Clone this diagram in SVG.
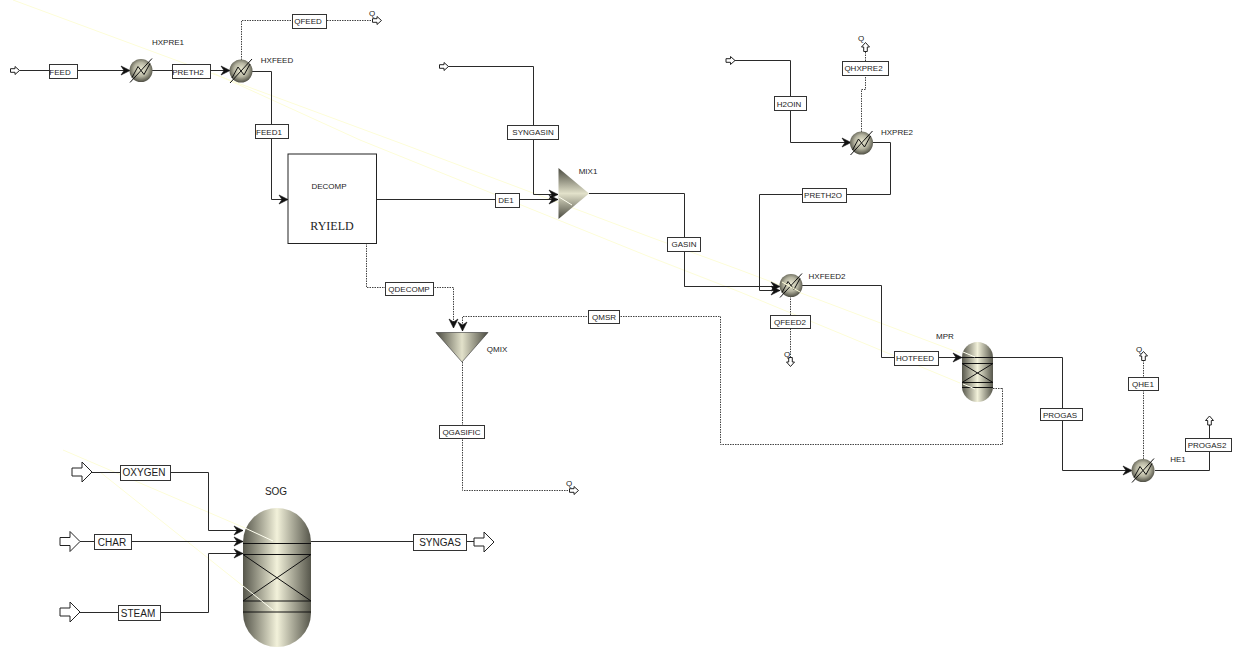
<svg xmlns="http://www.w3.org/2000/svg" xmlns:xlink="http://www.w3.org/1999/xlink" width="1239" height="647" viewBox="0 0 1239 647">
<style>
text{font-family:"Liberation Sans",Arial,sans-serif;font-size:8px;fill:#1c1c1c;text-anchor:middle}
.lg{font-size:10px}
.s{fill:none;stroke:#2a2a2a;stroke-width:1;marker-end:url(#ah)}
.n{fill:none;stroke:#2a2a2a;stroke-width:1}
.q{fill:none;stroke:#444;stroke-width:1;stroke-dasharray:1.5 1}
.qa{marker-end:url(#ah)}
.b{fill:#fff;stroke:#333;stroke-width:1}
.p{fill:#fff;stroke:#222;stroke-width:1}
.z{fill:none;stroke:#111;stroke-width:1}
.w{fill:none;stroke:#fffff0;stroke-width:1}
.y{fill:none;stroke:#fdfdd8;stroke-width:1}
</style>
<defs>
<radialGradient id="sph" cx="50%" cy="45%" r="55%"><stop offset="0" stop-color="#ecebd4"/><stop offset=".55" stop-color="#b5b4a0"/><stop offset="1" stop-color="#4f4f44"/></radialGradient>
<linearGradient id="ves" x1="0" x2="1" y1="0" y2="0"><stop offset="0" stop-color="#56564b"/><stop offset=".5" stop-color="#f2f1da"/><stop offset="1" stop-color="#56564b"/></linearGradient>
<linearGradient id="mixv" x1="0" x2="0" y1="0" y2="1"><stop offset="0" stop-color="#4a4a40"/><stop offset=".5" stop-color="#e2e1ca"/><stop offset="1" stop-color="#4a4a40"/></linearGradient>
<linearGradient id="mixh" x1="0" x2="1" y1="0" y2="0"><stop offset="0" stop-color="#4a4a40"/><stop offset=".5" stop-color="#e2e1ca"/><stop offset="1" stop-color="#4a4a40"/></linearGradient>
<marker id="ah" markerUnits="userSpaceOnUse" markerWidth="12" markerHeight="12" refX="10" refY="6" orient="auto"><path d="M1,1.5 L10,6 L1,10.5 L4,6 Z" fill="#111" stroke="#111" stroke-width=".6"/></marker>
<path id="pa" d="M-4.5,-1.8 H0 V-4 L4.5,0 L0,4 V1.8 H-4.5 Z" class="p"/>
<path id="pb" d="M-10,-4 H0 V-10 L10,0 L0,10 V4 H-10 Z" class="p"/>
<g id="hx"><circle r="11.5" fill="url(#sph)"/><path class="z" d="M-11,12 L11,-12 M-9,7 L-3,-4 L3,4 L9,-7"/></g>
</defs>

<g id="background-traces">
<path class="y" d="M13,0 L400,143 L650,237 L740,270 L960,353"/>
<path class="y" d="M213,73 L360,140 L650,257 L740,292 L960,383"/>
<path class="y" d="M63,450 L245,528"/>
<path class="y" d="M100,472 L243,586"/>
</g>

<g id="connectors">
<path class="s" d="M19.5,70.5 H130"/>
<path class="s" d="M152,70.5 H230"/>
<path class="n" d="M252,71.5 H271.5 V154"/><path class="s" d="M271.5,154 V199.5 H288"/>
<path class="q" d="M241.5,60 V20.5 H373"/>
<path class="s" d="M448,66.5 H533.5 V194.5 H558"/>
<path class="s" d="M376.5,199.5 H558"/>
<path class="n" d="M589,193.5 H684.5 V286.5 H770"/><path class="s" d="M684.5,286.5 H780"/>
<path class="q qa" d="M366.5,243 V287.5 H453.5 V328"/>
<path class="q qa" d="M1003,388.5 H1002.5 V444.5 H720.5 V316.5 H462.5 V331"/>
<path class="q" d="M993,388.5 H1003"/>
<path class="q" d="M462.5,362 V490.5 H570"/>
<path class="s" d="M735,60.5 H790.5 V142.5 H851"/>
<path class="q" d="M861.5,132 V89.5 H865.5 V52"/>
<path class="n" d="M873,142.5 H890.5 V194.5 H759.5 V290.5"/><path class="s" d="M759.5,290.5 H780"/>
<path class="s" d="M802,285.5 H881.5 V357.5 H962"/>
<path class="q" d="M790.5,296 V358"/>
<path class="n" d="M993,357.5 H1062.5 V470.5 H1100"/><path class="s" d="M1100,470.5 H1132"/>
<path class="q" d="M1143.5,459 V360"/>
<path class="n" d="M1155,470.5 H1209.5 V425"/>
<path class="s" d="M92,472.5 H208.5 V530.5 H243"/>
<path class="s" d="M80,541.5 H243"/>
<path class="s" d="M80,612.5 H208.5 V553.5 H243"/>
<path class="n" d="M311,541.5 H474"/>
</g>

<g id="stream-FEED"><rect class="b" x="49.5" y="64.5" width="28" height="14"/><text x="60" y="74.5">FEED</text></g>
<g id="stream-PRETH2"><rect class="b" x="172.5" y="64.5" width="38" height="14"/><text x="188" y="74.5">PRETH2</text></g>
<g id="stream-QFEED"><rect class="b" x="292.5" y="14.5" width="34" height="14"/><text x="308" y="24">QFEED</text></g>
<g id="stream-FEED1"><rect class="b" x="255.5" y="124.5" width="33" height="14"/><text x="269" y="135">FEED1</text></g>
<g id="stream-SYNGASIN"><rect class="b" x="507.5" y="125.5" width="51" height="14"/><text x="533" y="135">SYNGASIN</text></g>
<g id="stream-DE1"><rect class="b" x="495.5" y="193.5" width="24" height="14"/><text x="506" y="203">DE1</text></g>
<g id="stream-GASIN"><rect class="b" x="667.5" y="237.5" width="33" height="14"/><text x="684" y="247">GASIN</text></g>
<g id="stream-QDECOMP"><rect class="b" x="385.5" y="282.5" width="48" height="13"/><text x="409" y="291.5">QDECOMP</text></g>
<g id="stream-QMSR"><rect class="b" x="588.5" y="310.5" width="31" height="13"/><text x="604" y="320">QMSR</text></g>
<g id="stream-QGASIFIC"><rect class="b" x="439.5" y="425.5" width="45" height="13"/><text x="461.500" y="435">QGASIFIC</text></g>
<g id="stream-H2OIN"><rect class="b" x="774.500" y="96.5" width="32" height="14"/><text x="789" y="106.5">H2OIN</text></g>
<g id="stream-QHXPRE2"><rect class="b" x="842.5" y="61.5" width="46" height="14"/><text x="863.500" y="71">QHXPRE2</text></g>
<g id="stream-PRETH2O"><rect class="b" x="802.5" y="188.5" width="44" height="14"/><text x="823" y="198">PRETH2O</text></g>
<g id="stream-QFEED2"><rect class="b" x="770.5" y="315.5" width="40" height="13"/><text x="790" y="325">QFEED2</text></g>
<g id="stream-HOTFEED"><rect class="b" x="894.5" y="351.5" width="44" height="14"/><text x="915" y="361">HOTFEED</text></g>
<g id="stream-PROGAS"><rect class="b" x="1040.5" y="408.5" width="42" height="12"/><text x="1060" y="418">PROGAS</text></g>
<g id="stream-QHE1"><rect class="b" x="1128.5" y="377.5" width="30" height="13"/><text x="1143" y="387">QHE1</text></g>
<g id="stream-PROGAS2"><rect class="b" x="1185.5" y="438.5" width="46" height="13"/><text x="1207" y="448">PROGAS2</text></g>
<g id="stream-OXYGEN"><rect class="b" x="120.5" y="465.5" width="50" height="15"/><text class="lg" x="144" y="476">OXYGEN</text></g>
<g id="stream-CHAR"><rect class="b" x="94.500" y="534.5" width="37" height="15"/><text class="lg" x="112" y="546">CHAR</text></g>
<g id="stream-STEAM"><rect class="b" x="118.5" y="605.5" width="42" height="15"/><text class="lg" x="138" y="617">STEAM</text></g>
<g id="stream-SYNGAS"><rect class="b" x="413.5" y="534.5" width="53" height="16"/><text class="lg" x="440" y="546">SYNGAS</text></g>

<g id="ports">
<use xlink:href="#pa" href="#pa" x="15" y="70.500"/>
<use xlink:href="#pa" href="#pa" x="377" y="20.500"/>
<use xlink:href="#pa" href="#pa" x="444" y="66.500"/>
<use xlink:href="#pa" href="#pa" x="730.500" y="60.500"/>
<use xlink:href="#pa" href="#pa" x="574" y="490.500"/>
<use xlink:href="#pa" href="#pa" transform="translate(865.5,47) rotate(-90)"/>
<use xlink:href="#pa" href="#pa" transform="translate(790.5,362) rotate(90)"/>
<use xlink:href="#pa" href="#pa" transform="translate(1143.5,356) rotate(-90)"/>
<use xlink:href="#pa" href="#pa" transform="translate(1209.5,420.5) rotate(-90)"/>
<use xlink:href="#pb" href="#pb" x="82" y="472"/>
<use xlink:href="#pb" href="#pb" x="70" y="541.500"/>
<use xlink:href="#pb" href="#pb" x="70" y="612"/>
<use xlink:href="#pb" href="#pb" x="484" y="542"/>
<text x="372" y="16">Q</text><text x="861" y="41">Q</text><text x="787" y="357">Q</text><text x="1139" y="352">Q</text><text x="569" y="486">Q</text>
</g>

<g id="HXPRE1"><use xlink:href="#hx" href="#hx" x="141" y="70.500"/><text x="168" y="45">HXPRE1</text></g>
<g id="HXFEED"><use xlink:href="#hx" href="#hx" x="241" y="71"/><text x="277" y="63">HXFEED</text></g>
<g id="DECOMP"><rect x="288" y="154" width="88.500" height="89.500" fill="#fff" stroke="#222"/><text x="329" y="189">DECOMP</text><text x="332" y="230" style="font-family:'Liberation Serif',serif;font-size:12px">RYIELD</text></g>
<g id="MIX1"><path d="M558.500,168 L589,193.500 L558.500,219 Z" fill="url(#mixv)"/><path d="M559,197 L572,205" class="w"/><text x="588" y="174">MIX1</text></g>
<g id="QMIX"><path d="M436,332.500 H488 L462,362 Z" fill="url(#mixh)" stroke="#333" stroke-width=".6"/><text x="497" y="352">QMIX</text></g>
<g id="HXPRE2"><use xlink:href="#hx" href="#hx" x="861.500" y="143"/><text x="897" y="135">HXPRE2</text></g>
<g id="HXFEED2"><use xlink:href="#hx" href="#hx" x="791" y="285.500"/><path class="y" d="M782,282 L800,292"/><text x="827" y="279">HXFEED2</text></g>
<g id="MPR"><rect x="962" y="342" width="31" height="60" rx="15.500" fill="url(#ves)"/><path class="z" d="M962,357.500 H993 M962,363.500 H993 M962,382.500 H993 M962,387.500 H993 M962,363.500 L993,382.500 M993,363.500 L962,382.500"/><path class="w" d="M963,352 L975,357 M963,384 L975,389"/><text x="945" y="339">MPR</text></g>
<g id="HE1"><use xlink:href="#hx" href="#hx" x="1143" y="470.500"/><text x="1178" y="462">HE1</text></g>
<g id="SOG"><rect x="243" y="508" width="68" height="139" rx="34" fill="url(#ves)"/><path class="z" d="M243,543.500 H311 M243,554.500 H311 M243,601 H311 M243,612 H311 M243,554.500 L311,601 M311,554.500 L243,601"/><path class="w" d="M245,528 L273,541 M243,586 L273,610"/><text class="lg" x="276" y="495">SOG</text></g>
</svg>
